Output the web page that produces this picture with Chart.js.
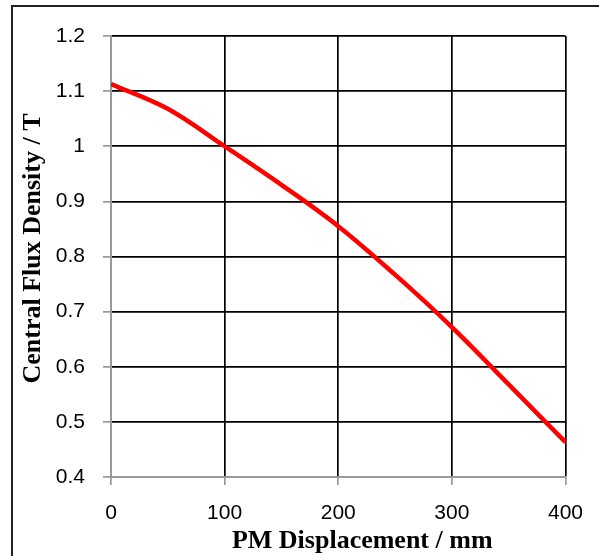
<!DOCTYPE html>
<html>
<head>
<meta charset="utf-8">
<script src="https://cdn.jsdelivr.net/npm/chart.js@4"></script>
<style>
  html, body { margin: 0; padding: 0; background: #fff; }
  #wrap { width: 599px; height: 556px; }
</style>
</head>
<body>
<div id="wrap"><canvas id="myChart" width="599" height="556"></canvas></div>
<script>
// values
const displacement = [0, 50, 100, 150, 200, 250, 300, 350, 400];
const fluxDensity = [1.113, 1.068, 1.0, 0.93, 0.855, 0.767, 0.672, 0.568, 0.463];
const xTickLabels = ['0', '100', '200', '300', '400'];
const yTickLabels = ['0.4', '0.5', '0.6', '0.7', '0.8', '0.9', '1', '1.1', '1.2'];
const xTitle = 'PM Displacement / mm';
const yTitle = 'Central Flux Density / T';

const frameAndTitles = {
    id: 'frameAndTitles',
    beforeDraw(chart) {
        const c = chart.ctx;
        c.save();
        c.fillStyle = '#fff';
        c.fillRect(0, 0, chart.width, chart.height);
        c.restore();
    },
    afterDraw(chart) {
        const c = chart.ctx;
        const area = chart.chartArea;
        c.save();
        c.fillStyle = '#222';
        c.fillRect(11, 5, 588, 2);
        c.fillRect(11, 5, 2, 551);
        c.fillStyle = '#000';
        c.font = 'bold 26px "Liberation Serif"';
        c.textAlign = 'center';
        c.textBaseline = 'middle';
        c.fillText(xTitle, (area.left + area.right) / 2 + 24, 541);
        c.translate(33, (area.top + area.bottom) / 2 - 8);
        c.rotate(-Math.PI / 2);
        c.fillText(yTitle, 0, 0);
        c.restore();
    }
};

function tickText(list) {
    return function (value) {
        const hit = list.find(t => Math.abs(parseFloat(t) - value) < 1e-6);
        return hit === undefined ? '' : hit;
    };
}

const ctx = document.getElementById('myChart').getContext('2d');
const myChart = new Chart(ctx, {
    type: 'line',
    data: {
        datasets: [{
            data: displacement.map((x, i) => ({ x: x, y: fluxDensity[i] })),
            borderColor: '#ff0000',
            borderWidth: 4.5,
            pointRadius: 0,
            fill: false,
            tension: 0.35
        }]
    },
    options: {
        responsive: false,
        animation: false,
        layout: { padding: { left: 14, right: 32, top: 36, bottom: 0 } },
        plugins: { legend: { display: false }, tooltip: { enabled: false } },
        scales: {
            x: {
                type: 'linear',
                min: 0,
                max: 400,
                afterFit(scale) { scale.height = 79; },
                ticks: {
                    stepSize: 100,
                    padding: 16,
                    color: '#000',
                    font: { family: '"Liberation Sans"', size: 21 },
                    maxRotation: 0,
                    callback: tickText(xTickLabels)
                },
                grid: {
                    color: '#000',
                    lineWidth: 1.7,
                    tickColor: '#999',
                    tickLength: 8
                },
                border: { color: '#999', width: 2 }
            },
            y: {
                min: 0.4,
                max: 1.2,
                afterFit(scale) { scale.width = 97; },
                ticks: {
                    stepSize: 0.1,
                    padding: 18,
                    color: '#000',
                    font: { family: '"Liberation Sans"', size: 21 },
                    callback: tickText(yTickLabels)
                },
                grid: {
                    color: '#000',
                    lineWidth: 1.7,
                    tickColor: '#999',
                    tickLength: 8
                },
                border: { color: '#999', width: 2 }
            }
        }
    },
    plugins: [frameAndTitles]
});
</script>
</body>
</html>
